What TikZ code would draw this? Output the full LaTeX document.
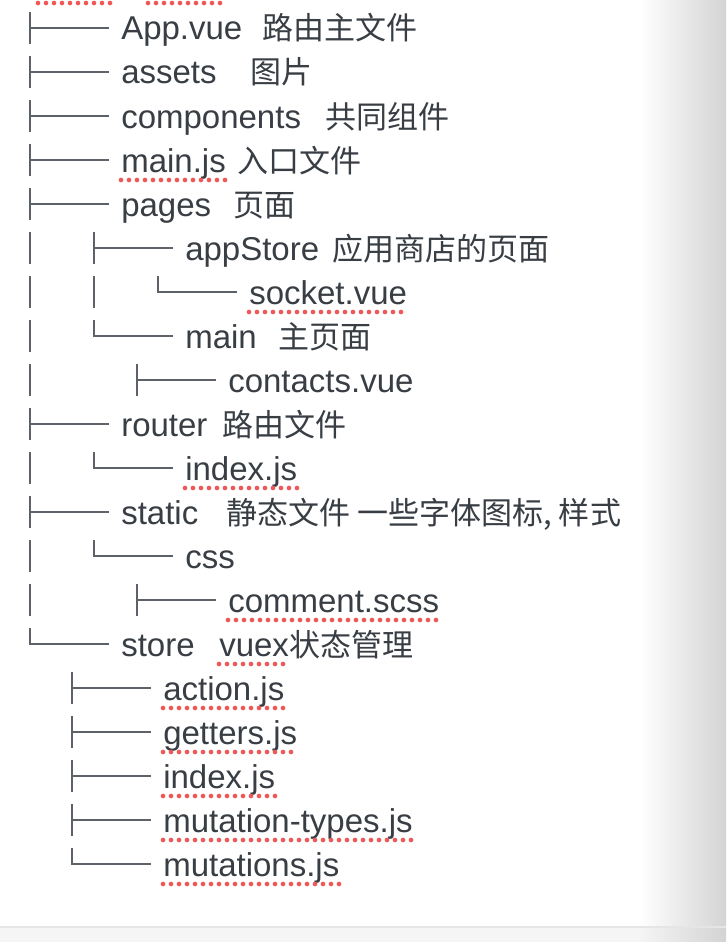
\documentclass[tikz,border=0pt]{standalone}
\usepackage{fontspec}
\setmainfont{Liberation Sans}
\newfontfamily\zhfont[Scale=0.94]{Noto Sans CJK SC}
\usetikzlibrary{positioning}
\definecolor{ink}{RGB}{56,62,68}
\definecolor{rule}{RGB}{92,98,104}
\definecolor{typored}{RGB}{240,88,88}
\tikzset{
  entry/.style={anchor=base west, inner sep=0pt, text=ink, font=\fontsize{24.75pt}{30pt}\selectfont},
  remark/.style={entry, font=\fontsize{24.75pt}{30pt}\selectfont\zhfont},
  treeline/.style={draw=rule, line width=1.3pt},
  typo/.style={draw=typored, line width=3.5pt, line cap=round, dash pattern=on 0pt off 6pt},
}
% tree glyphs: stem x, row y
\newcommand\branch[2]{\draw[treeline] (#1,#2-16) -- (#1,#2+16) (#1,#2) -- (#1+79,#2);}
\newcommand\lastbranch[2]{\draw[treeline] (#1,#2-16) -- (#1,#2) -- (#1+79,#2);}
\newcommand\stem[2]{\draw[treeline] (#1,#2-16) -- (#1,#2+16);}
\begin{document}
\begin{tikzpicture}[x=0.75pt, y=-0.75pt]
  \useasboundingbox (0,0) rectangle (726,942);
  \fill[white] (0,0) rectangle (726,942);
  \shade[left color=white, right color=black!17] (640,0) rectangle (726,926);
  \fill[black!4] (0,926) rectangle (726,942);
  \shade[left color=black!4, right color=black!17] (640,926) rectangle (726,942);
  \draw[black!10, line width=1.5pt] (0,927) -- (726,927);

  % files
  \node[entry] (app) at (121,40) {App.vue};
  \node[remark] (appnote) at (262,40) {路由主文件};
  \node[entry] (assets) at (121,84) {assets};
  \node[remark] (assetsnote) at (250,84) {图片};
  \node[entry] (components) at (121,128) {components};
  \node[remark] (componentsnote) at (325,128) {共同组件};
  \node[entry] (mainjs) at (121,172) {main.js};
  \node[remark] (mainjsnote) at (237,172) {入口文件};
  \node[entry] (pages) at (121,216) {pages};
  \node[remark] (pagesnote) at (233,216) {页面};
  \node[entry] (appstore) at (185,260) {appStore};
  \node[remark] (appstorenote) at (332,260) {应用商店的页面};
  \node[entry] (socket) at (249,304) {socket.vue};
  \node[entry] (mainpage) at (185,348) {main};
  \node[remark] (mainpagenote) at (278,348) {主页面};
  \node[entry] (contacts) at (228,392) {contacts.vue};
  \node[entry] (router) at (121,436) {router};
  \node[remark] (routernote) at (222,436) {路由文件};
  \node[entry] (routerindex) at (185,480) {index.js};
  \node[entry] (static) at (121,524) {static};
  \node[remark] (staticnote) at (226,524) {静态文件 一些字体图标, 样式};
  \node[entry] (css) at (185,568) {css};
  \node[entry] (comment) at (228,612) {comment.scss};
  \node[entry] (store) at (121,656) {store};
  \node[entry] (vuex) at (219,656) {vuex};
  \node[remark, base right=0pt of vuex] (vuexnote) {状态管理};
  \node[entry] (action) at (163,700) {action.js};
  \node[entry] (getters) at (163,744) {getters.js};
  \node[entry] (storeindex) at (163,788) {index.js};
  \node[entry] (mutationtypes) at (163,832) {mutation-types.js};
  \node[entry] (mutations) at (163,876) {mutations.js};

  % tree
  \foreach \y in {28,72,116,160,204,424,512} \branch{30}{\y};
  \foreach \y in {248,292,336,380,468,556,600} \stem{30}{\y};
  \lastbranch{30}{644};
  \branch{94}{248};
  \stem{94}{292};
  \lastbranch{158}{292};
  \lastbranch{94}{336};
  \branch{137}{380};
  \lastbranch{94}{468};
  \lastbranch{94}{556};
  \branch{137}{600};
  \foreach \y in {688,732,776,820} \branch{72}{\y};
  \lastbranch{72}{864};

  % spelling marks
  \draw[typo] (38,3) -- (115,3);
  \draw[typo] (148,3) -- (225,3);
  \foreach \n in {mainjs,socket,routerindex,comment,vuex,action,getters,storeindex,mutationtypes,mutations}
    \draw[typo] ([yshift=-6pt]\n.base west) -- ([yshift=-6pt]\n.base east);
\end{tikzpicture}
\end{document}
